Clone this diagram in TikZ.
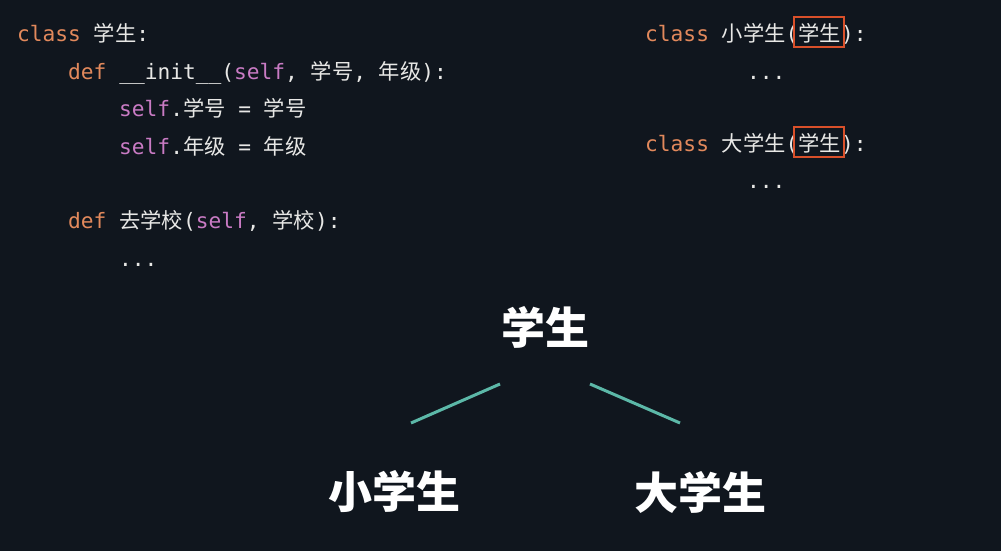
\documentclass[tikz,border=0pt]{standalone}
\usepackage{fontspec}
\setmonofont{DejaVu Sans Mono}
\newfontfamily\cjk{Noto Sans CJK SC}
\usetikzlibrary{calc}
\definecolor{bgc}{HTML}{10161E}
\definecolor{txt}{HTML}{E8E8E6}
\definecolor{kwc}{HTML}{E2895C}
\definecolor{selfc}{HTML}{C97BC4}
\definecolor{boxc}{HTML}{D9502A}
\definecolor{teal}{HTML}{5CB8A8}
\newcommand\kw[1]{\textcolor{kwc}{#1}}
\newcommand\sv[1]{\textcolor{selfc}{#1}}
\newcommand\zh[1]{{\cjk\fontsize{21.3}{21.3}\selectfont #1}}
\tikzset{
  code/.style={anchor=base west, inner sep=0pt, text=txt,
    font=\ttfamily\fontsize{21.2}{21.2}\selectfont},
  big/.style={inner sep=0pt, text=white,
    font=\cjk\bfseries\fontsize{44}{44}\selectfont},
  hlbox/.style={draw=boxc, line width=2.5pt, minimum width=50pt, minimum height=30pt, inner sep=0pt},
  branch/.style={draw=teal, line width=3pt}
}
\begin{document}
\begin{tikzpicture}[x=1pt,y=-1pt]
\fill[bgc] (0,0) rectangle (1001,551);
\useasboundingbox (0,0) rectangle (1001,551);
% left code
\node[code] (l1) at (17,41.5) {\kw{class} \zh{学生}:};
\node[code] (l2) at (68,79) {\kw{def} \_\_init\_\_(\sv{self}, \zh{学号}, \zh{年级}):};
\node[code] (l3) at (119,116.5) {\sv{self}.\zh{学号} = \zh{学号}};
\node[code] (l4) at (119,154) {\sv{self}.\zh{年级} = \zh{年级}};
\node[code] (l5) at (68,228.5) {\kw{def} \zh{去学校}(\sv{self}, \zh{学校}):};
\node[code] (l6) at (119,266) {...};
% right code
\node[code] (r1) at (645,42) {\kw{class} \zh{小学生}(\zh{学生}):};
\node[code] (r2) at (747,79) {...};
\node[code] (r3) at (645,151) {\kw{class} \zh{大学生}(\zh{学生}):};
\node[code] (r4) at (747,188) {...};
\node[hlbox] (b1) at (819,32) {};
\node[hlbox] (b2) at (819,142) {};
% tree
\node[big] (root) at (545,327) {学生};
\node[big] (left) at (394,492) {小学生};
\node[big] (right) at (700,492) {大学生};
\draw[branch] ($(root)+(-45,57)$) -- ($(left)+(17,-69)$);
\draw[branch] ($(root)+(45,57)$) -- ($(right)+(-20,-69)$);
\end{tikzpicture}
\end{document}
